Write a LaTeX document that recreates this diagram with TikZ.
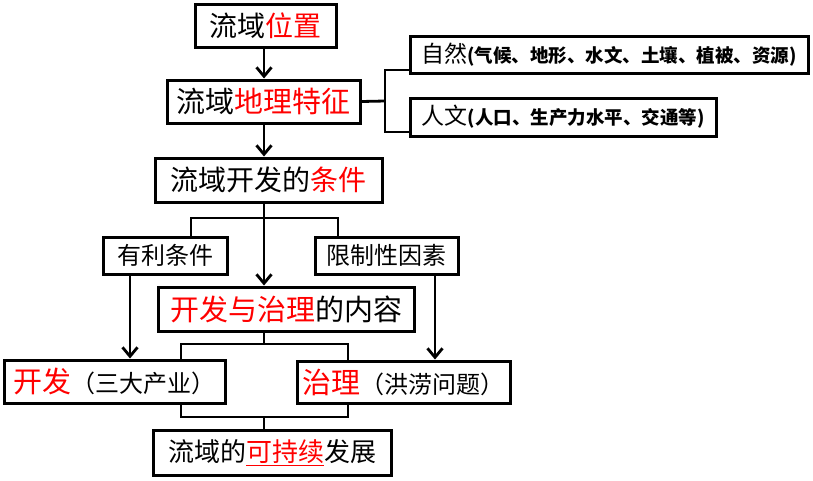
\documentclass[tikz,border=0pt]{standalone}
\usepackage{fontspec}
\setmainfont{Noto Sans CJK SC}
\usetikzlibrary{arrows.meta}
\newcommand\rtext[1]{\textcolor{red}{#1}}
\tikzset{
  bx/.style={draw, line width=3pt, inner sep=0pt, fill=white, align=center},
  ln/.style={line width=2.8pt},
  arr/.style={ln, -{Straight Barb[length=9pt,width=15pt]}},
  big/.style={font=\fontsize{28}{30}\selectfont},
  mid/.style={font=\fontsize{24}{26}\selectfont},
}
\begin{document}
\begin{tikzpicture}[x=1pt,y=-1pt]
\useasboundingbox (0,0) rectangle (813,480);
% boxes
\node[bx,big,minimum width=141pt,minimum height=43pt] (pos) at (265.5,25.5) {流域\rtext{位置}};
\node[bx,font=\fontsize{29}{30}\selectfont,minimum width=193pt,minimum height=43pt] (geo) at (263.5,101.5) {流域\rtext{地理特征}};
\node[bx,big,minimum width=227pt,minimum height=44pt] (cond) at (268.5,180) {流域开发的\rtext{条件}};
\node[bx,minimum width=398pt,minimum height=37pt] (nat) at (609,54.5) {{\fontsize{23}{25}\selectfont 自然}{\fontsize{18.5}{20}\selectfont\bfseries(气候、地形、水文、土壤、植被、资源)}};
\node[bx,minimum width=306pt,minimum height=38pt] (hum) at (563,117) {{\fontsize{23}{25}\selectfont 人文}{\fontsize{18.5}{20}\selectfont\bfseries(人口、生产力水平、交通等)}};
\node[bx,mid,minimum width=124pt,minimum height=37pt] (fav) at (165,255.5) {有利条件};
\node[bx,mid,minimum width=143pt,minimum height=37pt] (lim) at (386.5,255.5) {限制性因素};
\node[bx,font=\fontsize{29}{30}\selectfont,minimum width=256pt,minimum height=44pt] (cont) at (286,309) {\rtext{开发与治理}的内容};
\node[bx,minimum width=221pt,minimum height=43pt] (dev) at (114.5,381.5) {{\fontsize{29}{30}\selectfont\rtext{开发}}{\fontsize{24}{26}\selectfont （三大产业）}};
\node[bx,minimum width=213pt,minimum height=42pt] (gov) at (403.5,382) {{\fontsize{29}{30}\selectfont\rtext{治理}}{\fontsize{24}{26}\selectfont （洪涝问题）}};
\node[bx,font=\fontsize{26}{28}\selectfont,minimum width=238pt,minimum height=45pt] (sus) at (272,452.5) {流域的\textcolor{red}{\underline{可持续}}发展};
% coordinates
\coordinate (ax1) at (264,0);
\coordinate (brk) at (385,101);
\coordinate (bt) at (385,70);
\coordinate (bb) at (385,132);
\coordinate (bl) at (191,218);
\coordinate (br) at (338,218);
\coordinate (ml) at (181,344);
\coordinate (mr) at (348,344);
\coordinate (mc) at (264,344);
\coordinate (ll) at (181,417);
\coordinate (lr) at (348,417);
\coordinate (lc) at (264,417);
\coordinate (xa) at (130,0);
\coordinate (xb) at (435,0);
% arrows
\draw[arr] (pos.south -| ax1) -- (geo.north -| ax1);
\draw[arr] (geo.south -| ax1) -- (cond.north -| ax1);
\draw[arr] (cond.south -| ax1) -- (cont.north -| ax1);
\draw[arr] (fav.south -| xa) -- (dev.north -| xa);
\draw[arr] (lim.south -| xb) -- (gov.north -| xb);
% bracket to nat / hum
\draw[ln] (geo.east) -- (brk);
\draw[ln] (bt -| nat.west) -- (bt) -- (bb) -- (bb -| hum.west);
% branch to fav / lim
\draw[ln] (fav.north -| bl) -- (bl) -- (br) -- (lim.north -| br);
% content to dev / gov
\draw[ln] (cont.south -| mc) -- (mc);
\draw[ln] (dev.north -| ml) -- (ml) -- (mr) -- (gov.north -| mr);
% dev / gov to sus
\draw[ln] (dev.south -| ll) -- (ll) -- (lr) -- (gov.south -| lr);
\draw[ln] (lc) -- (sus.north -| lc);
\end{tikzpicture}
\end{document}
